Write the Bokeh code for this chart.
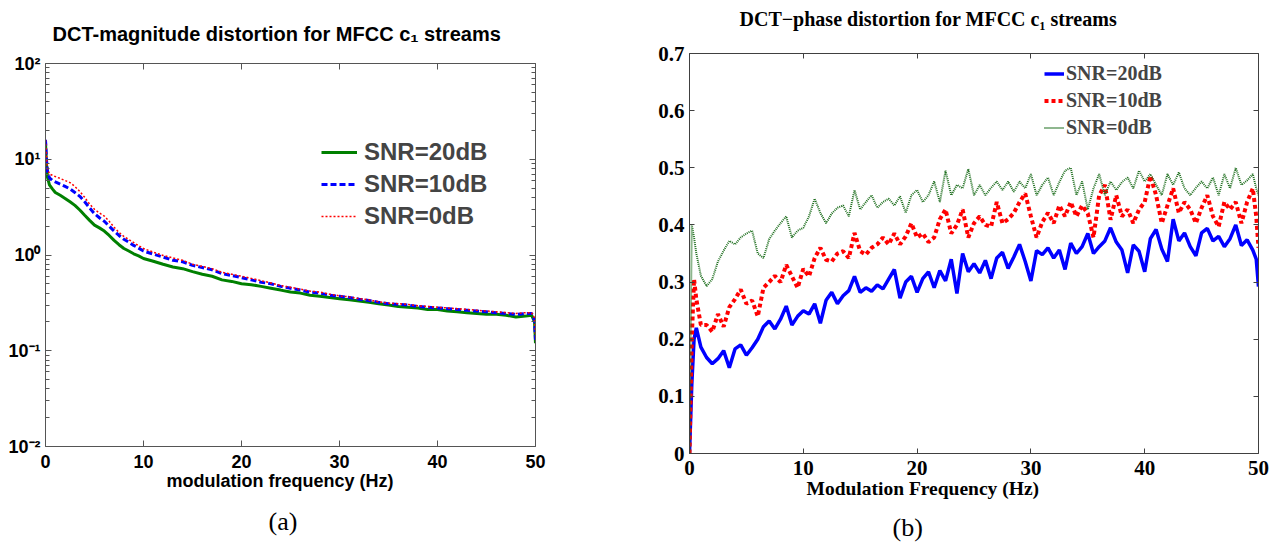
from bokeh.plotting import figure
from bokeh.models import (Range1d, LinearAxis, FixedTicker, Legend, LegendItem, Title)
from bokeh.layouts import row
from bokeh.embed import file_html
from bokeh.resources import INLINE

# ---------------- panel (a): DCT-magnitude distortion (log scale) ----------------
freq_a = [0, 0.1, 0.2, 0.4, 0.7, 1, 1.5, 2, 2.5, 3, 3.5, 4, 4.5, 5, 5.5, 6, 6.5, 7, 7.5, 8, 8.5, 9, 9.5, 10,
          11, 12, 13, 14, 15, 16, 17, 18, 19, 20, 21, 22, 23, 24, 25, 26, 27, 28, 29, 30,
          31, 32, 33, 34, 35, 36, 37, 38, 39, 40, 41, 42, 43, 44, 45, 46, 47, 48, 49,
          49.6, 49.9, 50]
mag_20 = [15, 9, 6.5, 5.4, 4.9, 4.5, 4.2, 3.9, 3.6, 3.3, 2.95, 2.6, 2.3, 2.05, 1.92, 1.78, 1.6, 1.42, 1.28, 1.17, 1.1, 1.03, 0.98, 0.92,
          0.86, 0.8, 0.75, 0.72, 0.67, 0.63, 0.6, 0.55, 0.53, 0.5, 0.49, 0.47, 0.45, 0.43, 0.41, 0.4, 0.38, 0.37, 0.36, 0.35,
          0.34, 0.33, 0.32, 0.31, 0.3, 0.29, 0.285, 0.28, 0.27, 0.27, 0.26, 0.255, 0.25, 0.245, 0.24, 0.24, 0.235, 0.225, 0.23,
          0.235, 0.2, 0.12]
mag_10 = [16, 10, 7.5, 6.4, 6.0, 5.8, 5.5, 5.2, 4.9, 4.5, 4.1, 3.6, 3.1, 2.7, 2.45, 2.25, 2.0, 1.78, 1.6, 1.46, 1.36, 1.26, 1.18, 1.1,
          1.02, 0.95, 0.88, 0.85, 0.78, 0.74, 0.7, 0.64, 0.61, 0.58, 0.55, 0.52, 0.5, 0.47, 0.45, 0.43, 0.41, 0.4, 0.38, 0.37,
          0.36, 0.345, 0.335, 0.32, 0.31, 0.305, 0.3, 0.29, 0.285, 0.28, 0.275, 0.27, 0.265, 0.26, 0.255, 0.25, 0.245, 0.24, 0.245,
          0.245, 0.21, 0.13]
mag_0 = [16, 11, 8, 7.0, 6.8, 6.6, 6.3, 6.0, 5.7, 5.2, 4.6, 4.0, 3.4, 3.0, 2.75, 2.55, 2.25, 1.95, 1.72, 1.56, 1.45, 1.35, 1.25, 1.17,
         1.07, 0.99, 0.93, 0.88, 0.8, 0.76, 0.72, 0.66, 0.63, 0.6, 0.57, 0.54, 0.51, 0.48, 0.46, 0.44, 0.42, 0.41, 0.39, 0.375,
         0.365, 0.35, 0.34, 0.325, 0.315, 0.31, 0.305, 0.295, 0.29, 0.285, 0.28, 0.275, 0.27, 0.265, 0.26, 0.255, 0.25, 0.245, 0.25,
         0.25, 0.22, 0.14]
xticks_a = [0, 10, 20, 30, 40, 50]
yticks_a = [0.01, 0.1, 1, 10, 100]
ylabels_a = ["10\u207b\u00b2", "10\u207b\u00b9", "10\u2070", "10\u00b9", "10\u00b2"]
series_a = ["SNR=20dB", "SNR=10dB", "SNR=0dB"]

# ---------------- panel (b): DCT-phase distortion ----------------
freq_b = [0, 0.2, 0.4, 0.6,
          1, 1.5, 2, 2.5, 3, 3.5, 4, 4.5, 5, 5.5,
          6, 6.5, 7, 7.5, 8, 8.5, 9, 9.5, 10, 10.5,
          11, 11.5, 12, 12.5, 13, 13.5, 14, 14.5, 15, 15.5,
          16, 16.5, 17, 17.5, 18, 18.5, 19, 19.5, 20, 20.5,
          21, 21.5, 22, 22.5, 23, 23.5, 24, 24.5, 25, 25.5,
          26, 26.5, 27, 27.5, 28, 28.5, 29, 29.5, 30, 30.5,
          31, 31.5, 32, 32.5, 33, 33.5, 34, 34.5, 35, 35.5,
          36, 36.5, 37, 37.5, 38, 38.5, 39, 39.5, 40, 40.5,
          41, 41.5, 42, 42.5, 43, 43.5, 44, 44.5, 45, 45.5,
          46, 46.5, 47, 47.5, 48, 48.5, 49, 49.5,
          49.8, 50]
ph_20 = [0.0, 0.12, 0.2, 0.22,
         0.186, 0.168, 0.157, 0.166, 0.18, 0.15, 0.183, 0.19, 0.172, 0.185,
         0.2, 0.222, 0.232, 0.218, 0.235, 0.258, 0.225, 0.24, 0.25, 0.244,
         0.262, 0.228, 0.268, 0.282, 0.262, 0.276, 0.285, 0.31, 0.282, 0.29,
         0.284, 0.295, 0.288, 0.305, 0.322, 0.272, 0.3, 0.31, 0.282, 0.306,
         0.318, 0.29, 0.32, 0.302, 0.34, 0.28, 0.35, 0.318, 0.332, 0.316,
         0.338, 0.306, 0.342, 0.352, 0.324, 0.344, 0.366, 0.336, 0.302, 0.355,
         0.348, 0.36, 0.342, 0.356, 0.322, 0.368, 0.35, 0.362, 0.385, 0.35,
         0.362, 0.372, 0.395, 0.37, 0.356, 0.316, 0.365, 0.354, 0.318, 0.376,
         0.392, 0.358, 0.336, 0.41, 0.372, 0.386, 0.362, 0.346, 0.386, 0.394,
         0.372, 0.38, 0.362, 0.376, 0.4, 0.364, 0.374, 0.356,
         0.34, 0.292]
ph_10 = [0.0, 0.2, 0.305, 0.27,
         0.225, 0.225, 0.213, 0.244, 0.222, 0.256, 0.27, 0.287, 0.262, 0.268,
         0.24, 0.29, 0.3, 0.311, 0.3, 0.33, 0.31, 0.29, 0.323, 0.31,
         0.342, 0.36, 0.339, 0.336, 0.35, 0.354, 0.342, 0.386, 0.354, 0.348,
         0.36, 0.366, 0.378, 0.366, 0.385, 0.366, 0.38, 0.403, 0.378, 0.385,
         0.37, 0.378, 0.41, 0.427, 0.385, 0.4, 0.427, 0.378, 0.403, 0.415,
         0.4, 0.397, 0.44, 0.403, 0.41, 0.421, 0.44, 0.455, 0.415, 0.378,
         0.405, 0.421, 0.403, 0.434, 0.415, 0.44, 0.415, 0.434, 0.42, 0.378,
         0.452, 0.47, 0.409, 0.452, 0.415, 0.427, 0.403, 0.427, 0.44, 0.486,
         0.452, 0.403, 0.434, 0.464, 0.421, 0.44, 0.427, 0.403, 0.43, 0.452,
         0.415, 0.397, 0.44, 0.427, 0.44, 0.403, 0.44, 0.464,
         0.415, 0.36]
ph_0 = [0.0, 0.4, 0.378, 0.35,
        0.311, 0.293, 0.305, 0.336, 0.355, 0.372, 0.366, 0.378, 0.385, 0.39,
        0.35, 0.342, 0.375, 0.39, 0.403, 0.415, 0.378, 0.39, 0.395, 0.415,
        0.446, 0.421, 0.403, 0.42, 0.43, 0.434, 0.415, 0.461, 0.427, 0.44,
        0.452, 0.43, 0.44, 0.446, 0.434, 0.45, 0.421, 0.452, 0.461, 0.44,
        0.452, 0.476, 0.44, 0.495, 0.452, 0.47, 0.464, 0.498, 0.452, 0.47,
        0.452, 0.465, 0.476, 0.461, 0.476, 0.458, 0.476, 0.464, 0.489, 0.452,
        0.47, 0.483, 0.452, 0.475, 0.495, 0.5, 0.452, 0.476, 0.427, 0.464,
        0.489, 0.452, 0.476, 0.461, 0.475, 0.483, 0.464, 0.495, 0.476, 0.489,
        0.47, 0.452, 0.489, 0.47, 0.492, 0.464, 0.452, 0.465, 0.476, 0.464,
        0.483, 0.452, 0.489, 0.464, 0.5, 0.47, 0.478, 0.489,
        0.464, 0.452]
xticks_b = [0, 10, 20, 30, 40, 50]
yticks_b = [0, 0.1, 0.2, 0.3, 0.4, 0.5, 0.6, 0.7]
ylabels_b = ["0", "0.1", "0.2", "0.3", "0.4", "0.5", "0.6", "0.7"]
series_b = ["SNR=20dB", "SNR=10dB", "SNR=0dB"]

SANS = "Liberation Sans"
SERIF = "Liberation Serif"


def style_axis(ax, font, size, color, tick_in, minor_in, standoff, labels=True):
    ax.axis_line_color = color
    ax.major_tick_line_color = color
    ax.minor_tick_line_color = color if minor_in else None
    ax.major_tick_in = tick_in
    ax.major_tick_out = 0
    ax.minor_tick_in = minor_in
    ax.minor_tick_out = 0
    ax.major_label_text_font = font
    ax.major_label_text_font_style = "bold"
    ax.major_label_text_color = "black"
    ax.major_label_standoff = standoff
    if labels:
        ax.major_label_text_font_size = size
    else:
        ax.major_label_text_font_size = "0px"
        ax.major_label_standoff = 0


def add_title(p, text, place, font, size, style, offset, valign, standoff, pad_top=0, pad_bottom=0):
    kw = dict(text=text, align="left", offset=offset, vertical_align=valign,
              standoff=standoff, text_font=font, text_font_style=style,
              text_font_size=size, text_color="black")
    try:
        t = Title(padding=dict(left=0, right=0, top=pad_top, bottom=pad_bottom), **kw)
    except Exception:
        t = Title(**kw)
    p.add_layout(t, place)


# ================= figure (a) =================
AX_A = "#555555"
p1 = figure(width=640, height=530, y_axis_type="log", margin=(10, 0, 0, 0),
            x_range=Range1d(0, 50), y_range=Range1d(0.01, 100),
            output_backend="svg", toolbar_location=None, title=None,
            min_border_left=45, min_border_right=105, min_border_top=53, min_border_bottom=94)
p1.grid.visible = False
p1.outline_line_color = None

yminor_a = [m * d for d in yticks_a[:-1] for m in range(2, 10)]
xa = p1.xaxis[0]
xa.ticker = FixedTicker(ticks=xticks_a)
xa.major_label_overrides = {t: str(t) for t in xticks_a}
style_axis(xa, SANS, "18px", AX_A, 6, 0, 8)
ya = p1.yaxis[0]
ya.ticker = FixedTicker(ticks=yticks_a, minor_ticks=yminor_a)
ya.major_label_overrides = dict(zip(yticks_a, ylabels_a))
style_axis(ya, SANS, "18px", AX_A, 6, 4, 5)

top_a = LinearAxis(ticker=FixedTicker(ticks=xticks_a),
                   major_label_overrides={t: "" for t in xticks_a})
style_axis(top_a, SANS, "17px", AX_A, 6, 0, 0, labels=False)
p1.add_layout(top_a, "above")
right_a = LinearAxis(ticker=FixedTicker(ticks=yticks_a, minor_ticks=yminor_a),
                     major_label_overrides={t: "" for t in yticks_a})
style_axis(right_a, SANS, "17px", AX_A, 6, 4, 0, labels=False)
p1.add_layout(right_a, "right")

add_title(p1, "DCT-magnitude distortion for MFCC c\u2081 streams", "above",
          SANS, "20px", "bold", 7, "top", 6, pad_bottom=14)
add_title(p1, "modulation frequency (Hz)", "below",
          SANS, "18px", "bold", 121, "top", 0)
add_title(p1, "(a)", "below", SERIF, "26px", "normal", 223, "top", 0, pad_top=14)

ra20 = p1.line(freq_a, mag_20, line_color="#008000", line_width=3)
ra10 = p1.line(freq_a, mag_10, line_color="#0000ff", line_width=3, line_dash="6 3")
ra0 = p1.line(freq_a, mag_0, line_color="#ff0000", line_width=1.5, line_dash="2 2")

leg_a = Legend(items=[LegendItem(label=s, renderers=[r]) for s, r in zip(series_a, [ra20, ra10, ra0])],
               location=(276, 214), margin=0, padding=0, spacing=0,
               glyph_width=36, glyph_height=32, label_height=32, label_standoff=7,
               label_text_font=SANS, label_text_font_style="bold", label_text_font_size="24px",
               border_line_color=None, background_fill_alpha=0)
p1.add_layout(leg_a)

# ================= figure (b) =================
AX_B = "#404040"
p2 = figure(width=644, height=547,
            x_range=Range1d(0, 50), y_range=Range1d(0, 0.7),
            output_backend="svg", toolbar_location=None, title=None,
            min_border_left=49, min_border_right=26, min_border_top=53, min_border_bottom=94)
p2.grid.visible = False
p2.outline_line_color = None

xb = p2.xaxis[0]
xb.ticker = FixedTicker(ticks=xticks_b)
xb.major_label_overrides = {t: str(t) for t in xticks_b}
style_axis(xb, SERIF, "21px", AX_B, 5, 0, 7)
yb = p2.yaxis[0]
yb.ticker = FixedTicker(ticks=yticks_b)
yb.major_label_overrides = dict(zip(yticks_b, ylabels_b))
style_axis(yb, SERIF, "21px", AX_B, 5, 0, 5)

top_b = LinearAxis(ticker=FixedTicker(ticks=xticks_b),
                   major_label_overrides={t: "" for t in xticks_b})
style_axis(top_b, SERIF, "20px", AX_B, 5, 0, 0, labels=False)
p2.add_layout(top_b, "above")
right_b = LinearAxis(ticker=FixedTicker(ticks=yticks_b),
                     major_label_overrides={t: "" for t in yticks_b})
style_axis(right_b, SERIF, "20px", AX_B, 5, 0, 0, labels=False)
p2.add_layout(right_b, "right")

add_title(p2, "DCT\u2212phase distortion for MFCC c\u2081 streams", "above",
          SERIF, "20px", "bold", 50, "top", 6, pad_bottom=19)
add_title(p2, "Modulation Frequency (Hz)", "below",
          SERIF, "19.5px", "bold", 117, "top", 0)
add_title(p2, "(b)", "below", SERIF, "26px", "normal", 203, "top", 0, pad_top=12)

rb20 = p2.line(freq_b, ph_20, line_color="#0000ff", line_width=3.5)
rb10 = p2.line(freq_b, ph_10, line_color="#ff0000", line_width=4, line_dash="4 3")
rb0 = p2.line(freq_b, ph_0, line_color="#1f6f1f", line_width=2, line_dash="1 1")

leg_b = Legend(items=[LegendItem(label=s, renderers=[r]) for s, r in zip(series_b, [rb20, rb10, rb0])],
               location=(355, 312), margin=0, padding=0, spacing=0,
               glyph_width=20, glyph_height=27, label_height=27, label_standoff=2,
               label_text_font=SERIF, label_text_font_style="bold", label_text_font_size="20px",
               border_line_color=None, background_fill_alpha=0)
p2.add_layout(leg_b)

layout = row(p1, p2)
open("out.html", "w").write(file_html(layout, INLINE))
